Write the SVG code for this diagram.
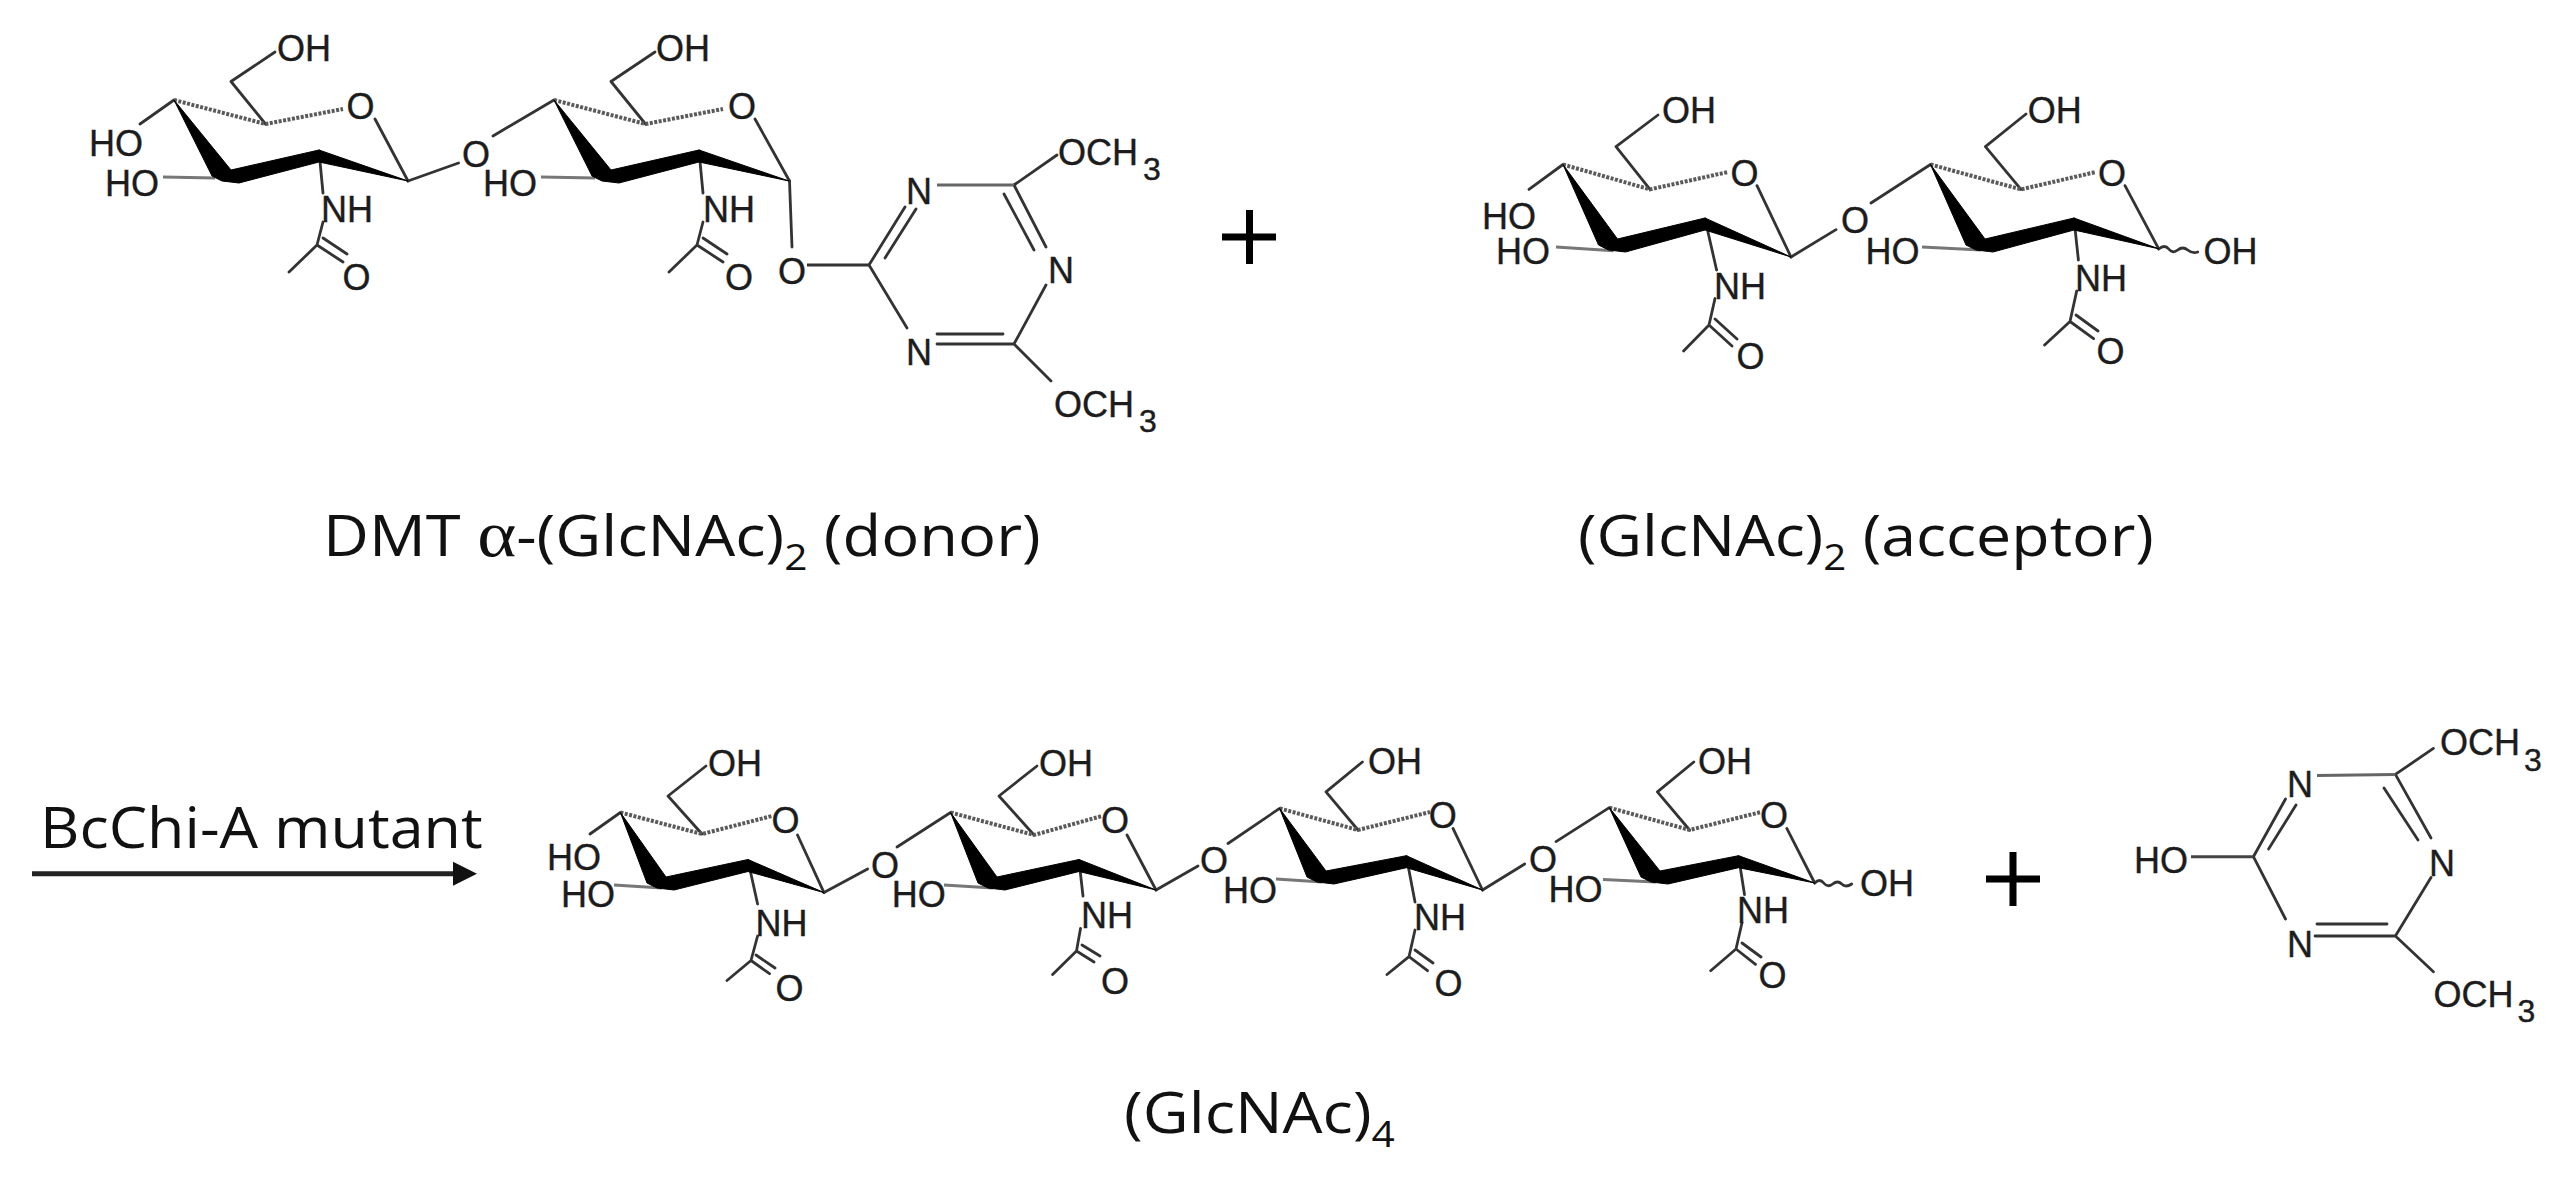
<svg xmlns="http://www.w3.org/2000/svg" width="2575" height="1192" viewBox="0 0 2575 1192">
<style>
.a{font-family:"Liberation Sans",Arial,sans-serif;font-size:36px;fill:#1c1c1c;stroke:#1c1c1c;stroke-width:.4}
.m{text-anchor:middle}
.s{font-size:32px}
.l{font-family:"Open Sans","Noto Sans",sans-serif;font-size:56px;fill:#111}
.u{font-size:36px}
.b{fill:none;stroke:#333;stroke-width:2.8;stroke-linecap:round;stroke-linejoin:round}
.h{fill:none;stroke:#5a5a5a;stroke-width:4;stroke-dasharray:3 1.5}
.w{fill:#000;stroke:#000;stroke-width:1;stroke-linejoin:round}
.g{fill:none;stroke:#777;stroke-width:3}
.p{fill:none;stroke:#000;stroke-width:7}
</style>
<defs>
<marker id="head" markerUnits="userSpaceOnUse" markerWidth="26" markerHeight="26" refX="2" refY="13" orient="auto"><path d="M2,1 L26,13 L2,25 Z" fill="#111"/></marker>
</defs>
<rect width="2575" height="1192" fill="#fff"/>

<g id="connectors">
<path id="arrow" d="M32,873.7 H453" fill="none" stroke="#222" stroke-width="5" marker-end="url(#head)"/>
<path class="b" d="M408,181 L458.5,163 M493,136 L554,100"/>
<path class="b" d="M1791,257 L1836,229.6 M1871,203 L1930.5,164.5"/>
<path class="b" d="M824,892.6 L867.6,869 M897,847 L950.6,812.5"/>
<path class="b" d="M1156,890 L1198,866 M1228,843.5 L1279.6,808.4"/>
<path class="b" d="M1482.5,890 L1524.7,864 M1556,841.6 L1609.3,807.6"/>
<path class="b" d="M789.5,181 L792,247"/>
<path d="M807,265 H869" fill="none" stroke="#333" stroke-width="3"/>
<path class="b" d="M2158.7,249 q6,-5 10,0 t9,1 t10,0 t10,2"/>
<path class="b" d="M1814.7,883 q5,-5 9,0 t9,1 t9,0 t10,0"/>
</g>

<g id="sugar-donor-1">
<path class="b" d="M275,52 L231,81.5 L265.5,124 M375,119 L408,181 M174,100 L140,124 M319,151 L323,193 M323,222 L317,245 L289,272 M317,245 L343,262 M323,238 L347,254"/>
<path class="h" d="M174,100 L265.5,124 L343,109"/>
<path class="g" d="M163,177 L215,178"/>
<polygon class="w" points="174,100 212,176 222,181 239,183 319,162 408,181 319,150 231,170"/>
<text class="a" x="277" y="61">OH</text><text class="a m" x="360.5" y="119">O</text><text class="a m" x="116" y="156">HO</text><text class="a m" x="132" y="196">HO</text><text class="a m" x="347" y="222">NH</text><text class="a m" x="356.5" y="290">O</text>
</g>
<text id="o-link-1" class="a m" x="476" y="167">O</text>
<g id="sugar-donor-2">
<path class="b" d="M655,52 L611,81.5 L645.5,124 M755,119 L789.5,181 M699,151 L703,193 M703,222 L697,245 L669,272 M697,245 L723,262 M703,238 L727,254"/>
<path class="h" d="M554,100 L645.5,124 L723,109"/>
<path class="g" d="M541,177 L595,178"/>
<polygon class="w" points="554,100 592,176 602,181 619,183 699,162 789,181 699,150 611,170"/>
<text class="a" x="656" y="61">OH</text><text class="a m" x="742" y="119">O</text><text class="a m" x="510" y="196">HO</text><text class="a m" x="729" y="222">NH</text><text class="a m" x="739" y="290">O</text>
</g>
<text id="o-link-2" class="a m" x="792" y="284">O</text>
<g id="dmt-donor">
<path class="b" d="M869,265 L905,207 M1014,185 L1046,247 M1046,285 L1014,344 M1014,344 H937 M907,328 L869,265 M1014,185 L1057,155 M1014,344 L1051,381"/>
<path class="b" d="M885,258 L916,209 M1004,194 L1034,250 M1003,334 H937"/>
<path d="M937,185 H1014" fill="none" stroke="#666" stroke-width="3"/>
<text class="a m" x="919" y="204">N</text><text class="a m" x="1061" y="283">N</text><text class="a m" x="919" y="365">N</text>
<text class="a" x="1058" y="165">OCH<tspan class="s" dx="5" dy="15">3</tspan></text>
<text class="a" x="1054" y="417">OCH<tspan class="s" dx="5" dy="15">3</tspan></text>
</g>
<path id="plus-1" class="p" d="M1222,237 H1276 M1249.5,210 V264"/>
<text id="label-donor" class="l" transform="translate(323,556) scale(1.13,1)">DMT <tspan font-family="Liberation Serif" font-size="66">α</tspan>-(GlcNAc)<tspan class="u" dy="14">2</tspan><tspan dy="-14"> (donor)</tspan></text>

<g id="sugar-acceptor-1">
<path class="b" d="M1658,115 L1616,146.6 L1650,189.4 M1757,185.6 L1791,257 M1563,164.5 L1529,189.4 M1705,219 L1716.6,270 M1715,298.5 L1709,325 L1683.6,351 M1709,325 L1732,346 M1715,319 L1737,339"/>
<path class="h" d="M1563,164.5 L1650,189.4 L1728,172"/>
<path class="g" d="M1556,247 L1613.5,250.7"/>
<polygon class="w" points="1563,164.5 1598.5,245 1608.5,250 1625.5,252 1705,230 1791,257 1705,218 1617.5,239"/>
<text class="a" x="1662" y="122.5">OH</text><text class="a m" x="1744.5" y="185.6">O</text><text class="a m" x="1509" y="228.5">HO</text><text class="a m" x="1523" y="264">HO</text><text class="a m" x="1740" y="298.5">NH</text><text class="a m" x="1750.4" y="369">O</text>
</g>
<text id="o-link-3" class="a m" x="1855" y="232.7">O</text>
<g id="sugar-acceptor-2">
<path class="b" d="M2026,114 L1985.4,146.6 L2021,189.4 M2125,185.6 L2158.7,248.8 M2074,219 L2078.4,260 M2076.7,291 L2070,321.5 L2044.6,345 M2070,321.5 L2093.6,338.7 M2076,315 L2098,331"/>
<path class="h" d="M1930.5,164.5 L2021,189.4 L2096,172"/>
<path class="g" d="M1922,247 L1981,250"/>
<polygon class="w" points="1930.5,164.5 1966,245 1976,250 1993,252 2074,230 2158.7,248.8 2074,218 1985,239"/>
<text class="a" x="2027.7" y="122.5">OH</text><text class="a m" x="2112" y="185.6">O</text><text class="a m" x="1892.4" y="264">HO</text><text class="a m" x="2101" y="291">NH</text><text class="a m" x="2110.5" y="363.6">O</text><text class="a" x="2203.5" y="264">OH</text>
</g>
<text id="label-acceptor" class="l" transform="translate(1578,556) scale(1.12,1)">(GlcNAc)<tspan class="u" dy="14">2</tspan><tspan dy="-14"> (acceptor)</tspan></text>

<text id="label-enzyme" class="l" transform="translate(40,848) scale(1.09,1)">BcChi-A mutant</text>

<g id="sugar-product-1">
<path class="b" d="M706,766 L668,796 L702,834 M797.5,835 L824,892.6 M620.4,812.5 L590,834 M748,860.5 L757.6,904 M757.6,936 L751,960.5 L727,980.5 M751,960.5 L769.5,973.7 M756,955 L775,968"/>
<path class="h" d="M620.4,812.5 L702,834 L772,816"/>
<path class="g" d="M614,885 L662,888"/>
<polygon class="w" points="620.4,812.5 647,883 657,888 674,890 748,871.5 824,892.6 748,859.5 666,877"/>
<text class="a" x="708" y="775.5">OH</text><text class="a m" x="785.5" y="833.3">O</text><text class="a m" x="574" y="870">HO</text><text class="a m" x="588" y="907">HO</text><text class="a m" x="781.5" y="936">NH</text><text class="a m" x="789.5" y="1001">O</text>
</g>
<text id="o-link-4" class="a m" x="885" y="877.5">O</text>
<g id="sugar-product-2">
<path class="b" d="M1037,766 L999,796 L1034,835 M1127,835 L1156,890 M1079,860.5 L1083,896 M1080.5,928.4 L1076.5,951 L1052.6,974.5 M1076.5,951 L1094,962 M1082,945 L1100,956"/>
<path class="h" d="M950.6,812.5 L1034,835 L1102,816"/>
<path class="g" d="M944,885 L993,888"/>
<polygon class="w" points="950.6,812.5 978,883 988,888 1005,890 1079,871.5 1156,890 1079,859.5 997,877"/>
<text class="a" x="1039" y="775.5">OH</text><text class="a m" x="1115" y="833">O</text><text class="a m" x="918.7" y="907">HO</text><text class="a m" x="1107" y="928.4">NH</text><text class="a m" x="1115" y="993.7">O</text>
</g>
<text id="o-link-5" class="a m" x="1214" y="872.5">O</text>
<g id="sugar-product-3">
<path class="b" d="M1362.4,762 L1326,791.8 L1358,830 M1453,828.4 L1482.5,890 M1406.4,856.7 L1415,902 M1415,930 L1409,956.7 L1387,974.5 M1409,956.7 L1427.5,970.7 M1415,950 L1433,963"/>
<path class="h" d="M1279.6,808.4 L1358,830 L1430,812"/>
<path class="g" d="M1276,879 L1322,882"/>
<polygon class="w" points="1279.6,808.4 1307,877 1317,882 1334,884 1406.4,867.7 1482.5,890 1406.4,855.7 1326,871"/>
<text class="a" x="1368" y="773.6">OH</text><text class="a m" x="1442.7" y="827.6">O</text><text class="a m" x="1250" y="903">HO</text><text class="a m" x="1440" y="930">NH</text><text class="a m" x="1448.6" y="995.6">O</text>
</g>
<text id="o-link-6" class="a m" x="1543" y="872">O</text>
<g id="sugar-product-4">
<path class="b" d="M1693.8,762 L1657.4,791.8 L1689.6,830 M1786.8,828.4 L1814.7,883 M1738.6,856.7 L1744.5,894.5 M1742,922.8 L1736,949 L1710.7,970.7 M1736,949 L1755.5,964.3 M1742,943 L1761,957"/>
<path class="h" d="M1609.3,807.6 L1689.6,830 L1761,812"/>
<path class="g" d="M1603,879.4 L1655.8,882"/>
<polygon class="w" points="1609.3,807.6 1641,877 1651,882 1668,884 1738.6,867.7 1814.7,883 1738.6,855.7 1660,871"/>
<text class="a" x="1698" y="773.6">OH</text><text class="a m" x="1774" y="827.6">O</text><text class="a m" x="1575.4" y="902">HO</text><text class="a m" x="1763" y="922.8">NH</text><text class="a m" x="1772.4" y="988">O</text><text class="a" x="1860" y="896">OH</text>
</g>
<text id="label-product" class="l" transform="translate(1124,1133) scale(1.13,1)">(GlcNAc)<tspan class="u" dy="14">4</tspan></text>
<path id="plus-2" class="p" d="M1986,879 H2040 M2013,852 V906"/>
<g id="dmt-product">
<path class="b" d="M2253.4,856.7 L2285.5,799 M2296,805 L2268.6,849 M2395.4,774.4 L2431,838 M2384,788 L2418,840 M2431,877.5 L2395.4,936 M2395.4,936 H2315 M2387,924 H2317 M2285.5,919 L2253.4,856.7 M2395.4,774.4 L2433.4,748.4 M2395.4,936 L2433.4,971.8"/>
<path d="M2191,856.7 H2253.4" fill="none" stroke="#444" stroke-width="3"/>
<path d="M2317,775.5 L2395.4,774.4" fill="none" stroke="#666" stroke-width="3"/>
<text class="a m" x="2300" y="797">N</text><text class="a m" x="2442" y="875.6">N</text><text class="a m" x="2300" y="956.7">N</text><text class="a m" x="2161" y="872.5">HO</text>
<text class="a" x="2440" y="754.8">OCH<tspan class="s" dx="4" dy="16">3</tspan></text>
<text class="a" x="2433.4" y="1007">OCH<tspan class="s" dx="4" dy="15">3</tspan></text>
</g>
</svg>
